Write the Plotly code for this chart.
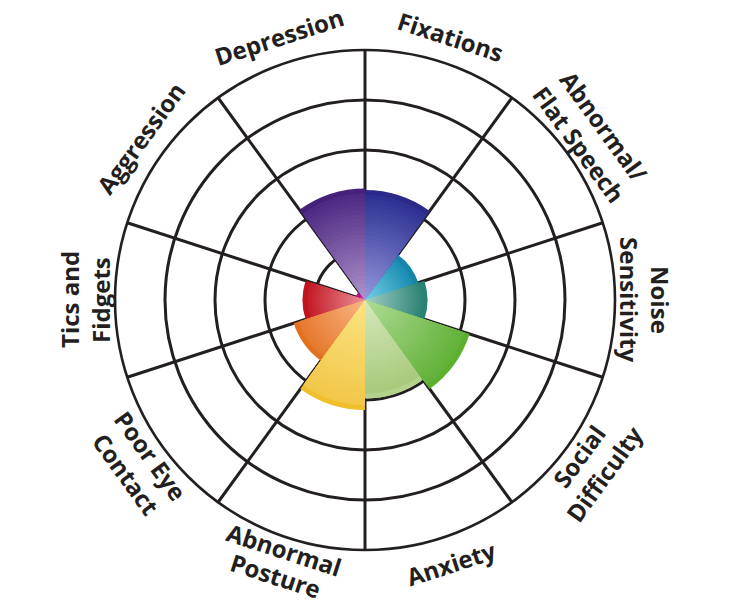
import math
import plotly.graph_objects as go

# ---- data ----
categories = ["Fixations", "Abnormal/<br>Flat Speech", "Noise<br>Sensitivity", "Social<br>Difficulty",
              "Anxiety", "Abnormal<br>Posture", "Poor Eye<br>Contact", "Tics and<br>Fidgets",
              "Aggression", "Depression"]
values = [2.2, 1.12, 1.25, 2.2, 1.97, 2.2, 1.5, 1.25, 0.2, 2.23]
grid_levels = [1, 2, 3, 4, 5]

# ---- colours: outer band, gradient dark (outside), gradient light (centre) ----
edge_colors = ["#2B2A8A", "#1686A8", "#2A8274", "#5DB02E", "#B3D28C", "#EFC02C",
               "#E4701F", "#C1141C", "#B8127F", "#46217A"]
dark_colors = ["#2F3292", "#1C8DB4", "#2F8577", "#63B23A", "#A9CA7C", "#F2C84A",
               "#E67A30", "#C41E2A", "#C0188C", "#4F2A84"]
light_colors = ["#9497DC", "#72CFE6", "#A3CFC5", "#AEDB94", "#D5E8BC", "#FCE384",
                "#F9B683", "#EA8E96", "#E070C0", "#AD92CA"]


def hex2rgb(h):
    h = h.lstrip("#")
    return tuple(int(h[i:i + 2], 16) for i in (0, 2, 4))


def mix(c1, c2, t):
    a, b = hex2rgb(c1), hex2rgb(c2)
    return "rgb(%d,%d,%d)" % tuple(round(a[i] + (b[i] - a[i]) * t) for i in range(3))


n = len(categories)
step = 360 / n
thetas = [step / 2 + step * i for i in range(n)]

fig = go.Figure()

# outer band
fig.add_trace(go.Barpolar(r=values, theta=thetas, width=[step] * n,
                          marker=dict(color=edge_colors, line=dict(width=0)),
                          hoverinfo="skip", showlegend=False))

band = 0.1
N = 26
for k in range(N):
    f = 1 - k / N
    t = k / (N - 1)
    rr = [max(v - band, v * 0.6) * f for v in values]
    cols = [mix(dark_colors[i], light_colors[i], t) for i in range(n)]
    fig.add_trace(go.Barpolar(r=rr, theta=thetas, width=[step] * n,
                              marker=dict(color=cols, line=dict(width=0)),
                              hoverinfo="skip", showlegend=False))

# ---- layout geometry (page body has an 8px margin) ----
W, H = 732, 600
off = 8
cx, cy, R = 365 - off, 300 - off, 250
line_col = "#231F20"


def add_label(text, th, r, ang):
    x = cx + r * math.sin(math.radians(th))
    y = cy - r * math.cos(math.radians(th))
    return dict(x=x / W, y=1 - y / H, xref="paper", yref="paper",
                text=text, showarrow=False, textangle=ang,
                xanchor="center", yanchor="middle",
                font=dict(family="Open Sans", size=24, color=line_col, weight="bold"))


annotations = []
for lab, th in zip(categories, thetas):
    bottom = 90 < th < 270
    if bottom:
        ang = th - 180
    elif th >= 270:
        ang = th - 360
    else:
        ang = th
    lines = lab.split("<br>")
    if len(lines) == 1:
        annotations.append(add_label(lines[0], th, 277, ang))
    else:
        r_in, r_out = (262, 290) if 190 < th < 206 else (265, 296)
        inner, outer = (lines[0], lines[1]) if bottom else (lines[1], lines[0])
        annotations.append(add_label(inner, th, r_in, ang))
        annotations.append(add_label(outer, th, r_out, ang))

fig.update_layout(
    width=W, height=H,
    margin=dict(l=0, r=0, t=0, b=0),
    paper_bgcolor="white",
    showlegend=False,
    annotations=annotations,
    polar=dict(
        domain=dict(x=[(cx - R) / W, (cx + R) / W], y=[1 - (cy + R) / H, 1 - (cy - R) / H]),
        bgcolor="white",
        barmode="overlay",
        bargap=0,
        radialaxis=dict(range=[0, 5], tickvals=grid_levels, showticklabels=False, ticks="",
                        showline=False, gridcolor=line_col, gridwidth=2.6, layer="above traces"),
        angularaxis=dict(direction="clockwise", rotation=90,
                         tickmode="array", tickvals=[step * i for i in range(n)],
                         showticklabels=False, ticks="",
                         gridcolor=line_col, gridwidth=2.6,
                         showline=True, linecolor=line_col, linewidth=2.6,
                         layer="above traces"),
    ),
)

fig.write_html("out.html")
